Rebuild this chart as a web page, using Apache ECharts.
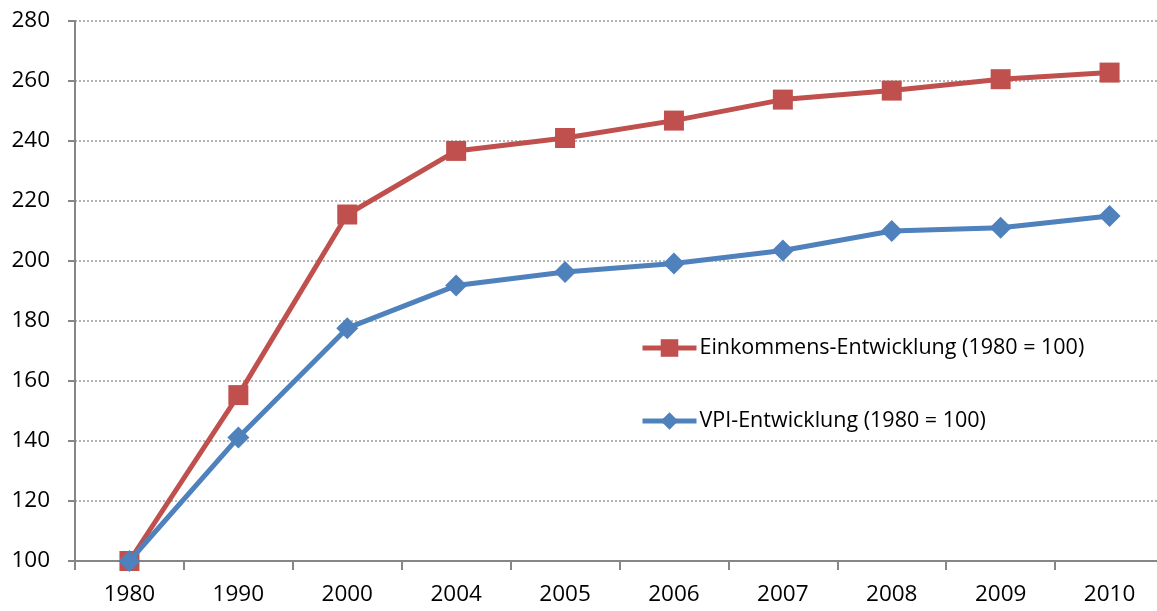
<!DOCTYPE html>
<html>
<head>
<meta charset="utf-8">
<script src="https://cdn.jsdelivr.net/npm/echarts@6/dist/echarts.min.js"></script>
<style>html,body{margin:0;padding:0;background:#fff;}#c{width:1157px;height:611px;}</style>
</head>
<body>
<div id="c"></div>
<script>
const categories = ['1980','1990','2000','2004','2005','2006','2007','2008','2009','2010'];
const einkommen = [100, 155.3, 215.5, 236.7, 241, 246.8, 253.8, 256.8, 260.6, 262.8];
const vpi = [100, 141.2, 177.6, 191.8, 196.3, 199.2, 203.5, 210, 211.1, 215];
const yTicks = {min: 100, max: 280, interval: 20};
const seriesNames = ['Einkommens-Entwicklung (1980 = 100)', 'VPI-Entwicklung (1980 = 100)'];

const font = '"Open Sans", "Liberation Sans", sans-serif';
const chart = echarts.init(document.getElementById('c'));
chart.setOption({
  animation: false,
  grid: {left: 75, top: 21, width: 1089, height: 540, containLabel: false, outerBoundsMode: 'none'},
  legend: {
    orient: 'vertical', left: 640, top: 337, itemGap: 51, padding: 0,
    itemWidth: 54, itemHeight: 22,
    lineStyle: {width: 5},
    textStyle: {fontFamily: font, fontSize: 21.5, color: '#000', padding: [0,0,0,-2]},
    data: seriesNames
  },
  xAxis: {
    type: 'category', data: categories, boundaryGap: true,
    axisLine: {lineStyle: {color: '#868686', width: 2}},
    axisTick: {show: true, length: 9, lineStyle: {color: '#868686', width: 2}},
    axisLabel: {fontFamily: font, fontSize: 22.5, color: '#000', margin: 22}
  },
  yAxis: {
    type: 'value', min: yTicks.min, max: yTicks.max, interval: yTicks.interval,
    axisLine: {show: true, lineStyle: {color: '#868686', width: 2}},
    axisTick: {show: true, length: 7, lineStyle: {color: '#868686', width: 2}},
    axisLabel: {fontFamily: font, fontSize: 22.5, color: '#000', margin: 25},
    splitLine: {lineStyle: {color: '#999999', type: [2, 2], width: 1.5}}
  },
  series: [
    {name: seriesNames[0], type: 'line', data: einkommen, symbol: 'rect', symbolSize: 20,
     lineStyle: {width: 5, color: '#C0504D'}, itemStyle: {color: '#C0504D'}, z: 2},
    {name: seriesNames[1], type: 'line', data: vpi, symbol: 'diamond', symbolSize: [22, 22],
     lineStyle: {width: 5, color: '#4F81BD'}, itemStyle: {color: '#4F81BD'}, z: 3}
  ]
});
</script>
</body>
</html>
